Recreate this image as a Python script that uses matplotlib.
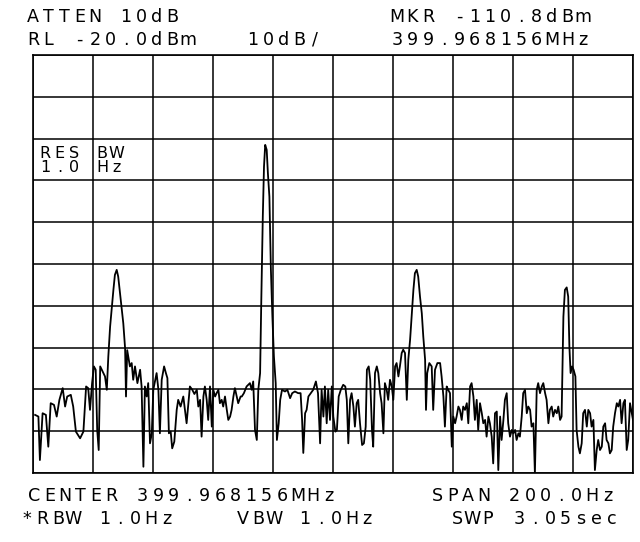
import matplotlib
matplotlib.use("Agg")
import matplotlib.pyplot as plt
import numpy as np

# trace: offset from center (Hz) and level (dBm)
freq_hz = [
    -99.3, -98.2, -97.7, -96.8, -95.7, -94.9, -94.1, -93.0, -92.1, -91.2,
    -90.1, -89.3, -88.6, -87.4, -86.6, -85.7, -84.3, -83.2, -82.3, -81.6,
    -81.0, -80.3, -79.7, -79.1, -78.6, -78.1, -77.6, -76.8, -76.0, -75.4,
    -74.9, -74.3, -73.8, -73.2, -72.7, -72.1, -71.6, -71.0, -70.4, -69.9,
    -69.3, -69.0, -68.6, -67.7, -67.1, -66.6, -66.0, -65.2, -64.3, -63.8,
    -63.2, -62.7, -62.1, -61.6, -61.0, -60.4, -59.9, -58.8, -58.2, -57.7,
    -57.1, -56.3, -55.7, -55.2, -54.7, -54.1, -53.6, -52.9, -52.1, -51.6,
    -50.8, -49.9, -48.8, -47.7, -46.9, -46.2, -45.4, -44.9, -44.3, -43.8,
    -43.2, -42.7, -42.1, -41.6, -41.0, -40.4, -39.9, -39.3, -38.8, -38.2,
    -37.7, -37.1, -36.6, -36.0, -35.4, -34.9, -34.3, -33.8, -33.2, -32.7,
    -32.1, -31.6, -30.8,
    -30.4, -29.7, -28.8, -27.7, -27.1, -26.6, -26.0, -25.4, -24.9, -24.3,
    -23.9, -23.4, -23.0, -22.6, -22.1, -21.7, -21.2, -20.7, -20.2, -19.7,
    -19.1, -18.7, -18.1, -17.6, -17.0, -16.0, -15.2, -14.3, -13.6, -12.7,
    -11.6, -10.8, -10.3, -9.9, -9.3, -8.8, -8.2, -7.4, -6.6, -5.7,
    -5.0, -4.3, -3.8, -3.2, -2.7, -2.1, -1.6, -1.0, -0.4, 0.1,
    0.8, 1.3, 1.9, 2.6, 3.4, 4.1, 4.6, 5.1, 5.7, 6.2,
    6.8, 7.3, 7.9, 8.4, 9.0, 9.7, 10.3, 10.9, 11.3, 11.9,
    12.4, 13.0, 13.4, 14.0, 14.6, 15.1, 15.7, 16.2, 16.8, 17.3,
    17.9, 18.4, 19.0, 19.6, 20.1, 20.7, 21.2, 21.8, 22.3, 22.9,
    23.4, 24.0, 24.6, 25.1, 25.7, 26.2, 26.8, 27.3, 27.9,
    28.4, 29.0, 29.6, 30.1, 30.7, 31.0, 31.4, 32.1, 32.9, 33.4,
    34.0, 34.8, 35.7, 36.2, 36.8, 37.3, 37.9, 38.4, 39.0, 39.6,
    40.1, 40.7, 41.2, 41.8, 42.3, 42.9, 43.4, 44.0, 44.6, 45.1,
    45.7, 46.2, 46.8, 47.3, 47.9, 48.4, 49.0, 49.6, 50.1, 50.7,
    51.2, 51.8, 52.3, 52.9, 53.4, 54.0, 54.6, 55.1, 55.7, 56.2,
    56.8, 57.3, 57.9, 58.4, 59.0, 59.6, 60.1, 60.7, 61.2, 61.8,
    62.3, 62.9, 63.4, 64.0, 64.6, 65.1, 65.7, 66.2, 66.8, 67.3,
    67.9, 68.4, 69.0, 69.6, 70.1, 70.7, 71.2, 71.8, 72.3, 72.9,
    73.4, 74.0, 74.6, 75.1, 75.7, 76.2, 76.8, 77.3, 77.9, 78.4,
    78.8, 79.2, 79.7, 80.2, 80.8, 81.2, 81.8, 82.3, 82.9, 83.4,
    84.0, 84.6, 85.1, 85.7, 86.2, 86.8, 87.3, 87.9, 88.4, 89.0,
    89.6, 90.1, 90.7, 91.2, 91.8, 92.3, 92.9, 93.4, 94.0, 94.6,
    95.1, 95.7, 96.2, 96.8, 97.3, 97.9, 98.4, 99.0, 99.6, 100.0,
]
level_dbm = [
    -106.1, -106.5, -116.9, -105.7, -106.1, -113.7, -103.3, -103.7, -106.5, -102.5,
    -99.7, -104.1, -101.7, -101.3, -104.1, -110.1, -111.7, -110.1, -99.3, -99.7,
    -104.9, -98.5, -94.5, -95.3, -109.7, -114.5, -94.5, -95.7, -96.9, -100.1,
    -92.2, -85.0, -81.0, -76.2, -72.6, -71.4, -73.0, -77.0, -81.0, -84.2,
    -90.2, -101.7, -90.6, -94.5, -93.7, -97.7, -94.5, -98.5, -95.3, -99.3,
    -118.5, -99.3, -101.7, -98.5, -112.9, -110.5, -100.1, -96.1, -100.1, -110.5,
    -97.7, -94.5, -96.1, -97.3, -110.5, -110.1, -114.1, -112.5, -104.9, -102.5,
    -104.1, -101.7, -108.1, -99.3, -100.1, -101.1, -100.1, -104.1, -102.5, -111.3,
    -101.7, -99.3, -102.5, -107.3, -99.3, -108.9, -100.1, -101.7, -100.9, -100.1,
    -103.3, -102.5, -104.1, -101.7, -104.9, -107.3, -106.5, -104.9, -101.7, -99.7,
    -101.7, -103.3, -101.7,
    -101.7, -100.9, -99.3, -98.5, -100.1, -98.1, -109.7, -112.1, -100.1, -96.1,
    -78.6, -58.7, -46.7, -41.5, -42.7, -48.3, -53.9, -71.4, -82.6, -92.1,
    -98.5, -112.1, -108.1, -102.5, -100.1, -100.5, -100.1, -102.1, -100.9, -100.5,
    -100.9, -100.9, -107.3, -115.2, -105.7, -104.9, -101.7, -100.9, -100.1, -98.1,
    -100.9, -112.9, -100.1, -106.5, -99.3, -108.1, -100.1, -107.3, -99.3, -106.5,
    -110.1, -109.7, -101.7, -100.1, -98.9, -99.3, -102.5, -112.9, -102.5, -100.9,
    -104.1, -108.9, -103.3, -102.5, -108.1, -113.3, -112.9, -108.9, -95.3, -94.5,
    -97.7, -109.7, -113.7, -96.1, -94.5, -96.1, -100.9, -103.3, -110.5, -98.5,
    -100.1, -102.5, -97.7, -99.3, -102.5, -94.5, -93.7, -96.9, -94.5, -91.3,
    -90.5, -91.3, -102.5, -92.9, -88.1, -82.6, -76.2, -72.2, -71.4,
    -73.0, -77.8, -81.8, -87.4, -92.9, -104.9, -96.1, -93.7, -94.5, -104.9,
    -95.3, -93.7, -93.7, -96.9, -101.7, -108.9, -99.3, -100.1, -100.9, -113.7,
    -106.5, -108.1, -106.5, -104.1, -104.9, -107.3, -104.1, -104.9, -103.3, -108.1,
    -99.3, -98.5, -101.7, -107.3, -102.5, -109.7, -103.3, -105.7, -108.1, -107.3,
    -111.3, -106.5, -108.1, -111.3, -117.7, -105.7, -105.3, -119.3, -106.5, -112.1,
    -107.3, -102.5, -100.9, -108.1, -111.3, -109.7, -110.5, -109.7, -112.1, -110.5,
    -111.3, -106.5, -100.9, -100.1, -105.7, -104.1, -104.9, -108.9, -108.1, -120.1,
    -100.1, -98.5, -100.9, -99.3, -98.5, -100.9, -102.5, -108.1, -104.9, -104.1,
    -106.5, -104.9, -105.7, -104.1, -107.3, -106.5, -82.6, -76.2, -75.6, -77.8,
    -89.8, -96.1, -94.5, -95.3, -96.9, -109.7, -113.7, -115.3, -112.9, -105.7,
    -104.9, -108.9, -104.9, -105.7, -108.9, -107.3, -119.3, -114.5, -112.1, -114.5,
    -113.7, -108.9, -108.1, -112.1, -112.9, -115.3, -114.5, -108.9, -105.7, -103.3,
    -104.1, -102.5, -108.1, -103.3, -102.5, -114.5, -112.1, -103.3, -105.7, -107.3,
]

# grid: 10 divisions each way, 20 Hz/div and 10 dB/div
span_hz = 200.0
ref_level = -20.0
db_per_div = 10.0

# annotation strings as printed on the screen
top_left = ["ATTEN 10dB", "RL -20.0dBm"]
top_mid = "10dB/"
top_right = ["MKR -110.8dBm", "399.968156MHz"]
bottom_rows = [
    [("CENTER 399.968156MHz", 29), ("SPAN 200.0Hz", 432)],
    [("*RBW 1.0Hz", 22), ("VBW 1.0Hz", 238), ("SWP 3.05sec", 452)],
]
res_bw = [("RES", "BW"), ("1.0", "Hz")]

W, H = 640, 542
fig = plt.figure(figsize=(W / 100, H / 100), dpi=100)
fig.patch.set_facecolor("white")

FONT = "DejaVu Sans"
PITCH = 15.5
FSIZE = 12.6


def plotter_text(x, y, s, size=FSIZE, pitch=PITCH, cell=10):
    # fixed pitch lettering like the analyzer's plotter, x/y in pixels from top-left
    for i, ch in enumerate(s):
        if ch == " ":
            continue
        fig.text((x + i * pitch + cell / 2) / W, 1 - y / H, ch, fontfamily=FONT,
                 fontsize=size, ha="center", va="baseline", color="black")


left, right, top, bottom = 33, 633, 55, 473
ax = fig.add_axes([left / W, 1 - bottom / H, (right - left) / W, (bottom - top) / H])
ax.set_xlim(-span_hz / 2, span_hz / 2)
ax.set_ylim(ref_level - 10 * db_per_div, ref_level)
ax.set_xticks(np.linspace(-span_hz / 2, span_hz / 2, 11))
ax.set_yticks(np.linspace(ref_level - 10 * db_per_div, ref_level, 11))
ax.tick_params(length=0, labelbottom=False, labelleft=False)
ax.grid(True, color="black", linewidth=1.1)
for sp in ax.spines.values():
    sp.set_color("black")
    sp.set_linewidth(1.2)

ax.plot(freq_hz, level_dbm, color="black", linewidth=1.3, zorder=3)

# header
plotter_text(28, 22, top_left[0])
plotter_text(28, 45, top_left[1])
plotter_text(248, 45, top_mid)
plotter_text(392, 22, top_right[0])
plotter_text(392, 45, top_right[1])

# footer
for s, x in bottom_rows[0]:
    plotter_text(x, 501, s)
for s, x in bottom_rows[1]:
    plotter_text(x, 524, s)

# RES BW box inside the grid: one two-line text per character column
for x0, col in ((40, 0), (97, 1)):
    top_s, bot_s = res_bw[0][col], res_bw[1][col]
    for i in range(max(len(top_s), len(bot_s))):
        a = top_s[i] if i < len(top_s) else " "
        b = bot_s[i] if i < len(bot_s) else " "
        fig.text((x0 + i * 14.5 + 5) / W, 1 - 172 / H, a + "\n" + b,
                 fontfamily=FONT, fontsize=11.5, ha="center", va="baseline",
                 linespacing=0.95, color="black")

fig.savefig("out.png", dpi=100, facecolor="white")
